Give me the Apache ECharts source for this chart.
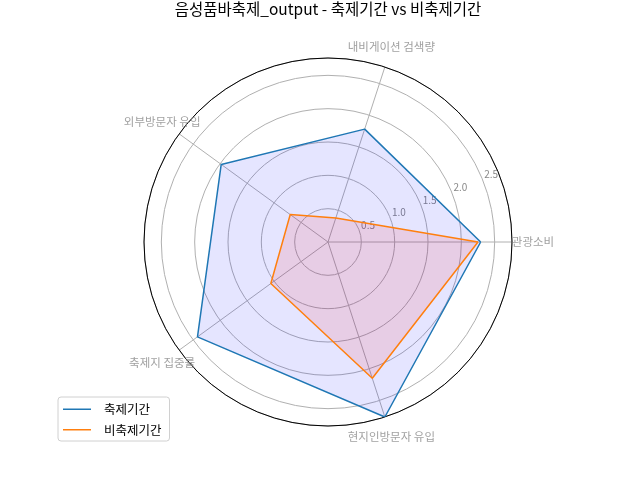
<!DOCTYPE html>
<html>
<head>
<meta charset="utf-8">
<script src="https://cdn.jsdelivr.net/npm/echarts@6/dist/echarts.min.js"></script>
<style>html,body{margin:0;padding:0;background:#fff;}#c{width:640px;height:480px;}</style>
</head>
<body>
<div id="c"></div>
<script>
const titleText = '음성품바축제_output - 축제기간 vs 비축제기간';
const categories = ['관광소비', '내비게이션 검색량', '외부방문자 유입', '축제지 집중률', '현지인방문자 유입'];
const festival = [2.29, 1.78, 1.98, 2.42, 2.76];
const nonFestival = [2.25, 0.38, 0.70, 1.06, 2.15];
const seriesNames = ['축제기간', '비축제기간'];
const rMax = 2.76;
const rInterval = 0.5;

const FONT = '"Noto Sans CJK KR", "Noto Sans", sans-serif';
const polarRadius = 184;
const labelRadiusPx = 205;
const labelR = rMax * labelRadiusPx / polarRadius;
const step = 360 / categories.length;

function closed(values) {
  const pts = values.map((v, i) => [v, i * step]);
  pts.push([values[0], 360]);
  return pts;
}

const chart = echarts.init(document.getElementById('c'));
chart.setOption({
  animation: false,
  backgroundColor: '#fff',
  title: {
    text: titleText, left: 328, textAlign: 'center', top: 1, padding: 0,
    textStyle: {fontFamily: FONT, fontSize: 15.5, fontWeight: 'normal', color: '#000'}
  },
  legend: {
    orient: 'vertical', left: 58, top: 397,
    data: seriesNames,
    icon: 'rect', itemWidth: 28, itemHeight: 1.5, itemGap: 8,
    textStyle: {fontFamily: FONT, fontSize: 12.5, color: '#000', padding: [0, 0, 0, 8]},
    borderColor: '#d0d0d0', borderWidth: 1, borderRadius: 3,
    padding: [6, 8, 5, 5], backgroundColor: '#fff'
  },
  polar: [
    {center: [328, 242], radius: polarRadius},
    {center: [328, 242], radius: [10, polarRadius + 10]}
  ],
  angleAxis: [
    {
      polarIndex: 0, type: 'value', min: 0, max: 360, interval: step,
      startAngle: 0, clockwise: false,
      axisLine: {show: true, lineStyle: {color: '#000', width: 1}},
      axisTick: {show: false},
      splitLine: {show: true, lineStyle: {color: '#b0b0b0', width: 1}},
      axisLabel: {show: false}
    },
    {
      polarIndex: 1, type: 'value', min: 0, max: 360, startAngle: 22.5, show: false
    }
  ],
  radiusAxis: [
    {
      polarIndex: 0, min: 0, max: rMax, interval: rInterval,
      axisLine: {show: false}, axisTick: {show: false}, axisLabel: {show: false},
      splitLine: {show: true, lineStyle: {color: '#b0b0b0', width: 1}}
    },
    {
      polarIndex: 1, min: 0, max: rMax, interval: rInterval,
      axisLine: {show: false}, axisTick: {show: false}, splitLine: {show: false},
      axisLabel: {
        color: '#888', fontFamily: FONT, fontSize: 10, margin: 0,
        align: 'center', verticalAlign: 'middle',
        showMinLabel: false, showMaxLabel: false,
        formatter: v => v.toFixed(1)
      }
    }
  ],
  series: [
    {
      name: seriesNames[0], type: 'line', coordinateSystem: 'polar', polarIndex: 0,
      data: closed(festival), symbol: 'none', clip: false,
      itemStyle: {color: '#1f77b4'},
      lineStyle: {color: '#1f77b4', width: 1.5},
      areaStyle: {color: 'rgba(0,0,255,0.1)', opacity: 1}
    },
    {
      name: seriesNames[1], type: 'line', coordinateSystem: 'polar', polarIndex: 0,
      data: closed(nonFestival), symbol: 'none', clip: false,
      itemStyle: {color: '#ff7f0e'},
      lineStyle: {color: '#ff7f0e', width: 1.5},
      areaStyle: {color: 'rgba(255,0,0,0.1)', opacity: 1}
    },
    {
      name: 'axisNames', type: 'scatter', coordinateSystem: 'polar', polarIndex: 0,
      data: categories.map((c, i) => [labelR, i * step]), clip: false, silent: true,
      symbolSize: 1, itemStyle: {color: 'rgba(0,0,0,0)'},
      label: {
        show: true, position: 'inside', color: '#888', fontFamily: FONT, fontSize: 11.5,
        formatter: p => categories[p.dataIndex]
      }
    }
  ]
});
</script>
</body>
</html>
